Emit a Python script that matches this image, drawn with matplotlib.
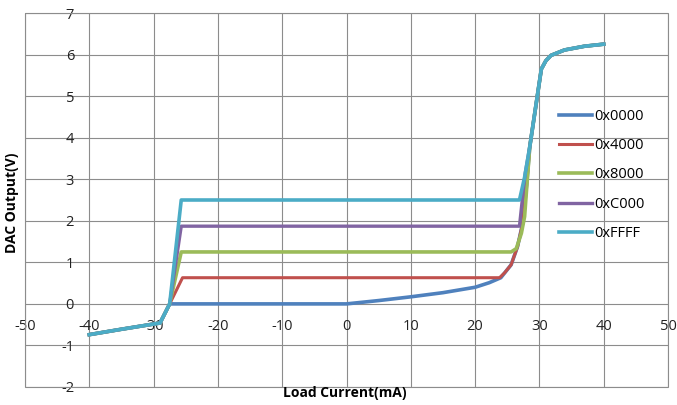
import matplotlib
matplotlib.use('Agg')
import matplotlib.pyplot as plt
from matplotlib.patches import Rectangle

plt.rcParams['font.family'] = ['Open Sans', 'DejaVu Sans']
plt.rcParams['axes.unicode_minus'] = False

# shared pieces of the curves
left_x = [-40, -35, -29.0, -27.5]
left_y = [-0.74, -0.61, -0.46, 0.0]
tail_x = [28.5, 29.5, 30.3, 31.0, 31.8, 33.9, 37.0, 40.0]
tail_y = [3.78, 4.82, 5.65, 5.85, 5.98, 6.11, 6.20, 6.25]

mid_x = {
    '0x0000': [-27.3, 0, 5, 10, 15, 20, 22.2, 24.0, 25.6, 26.6, 27.4, 28.0],
    '0x4000': [-25.5, 23.8, 24.6, 25.6, 26.6, 27.4, 28.0],
    '0x8000': [-25.7, 25.6, 26.4, 27.2, 27.7, 28.1],
    '0xC000': [-25.7, 26.9, 27.3, 27.8],
    '0xFFFF': [-25.7, 26.9, 27.7],
}
mid_y = {
    '0x0000': [0, 0, 0.08, 0.17, 0.27, 0.40, 0.51, 0.63, 0.94, 1.38, 1.94, 2.85],
    '0x4000': [0.63, 0.63, 0.75, 0.94, 1.38, 1.94, 2.85],
    '0x8000': [1.25, 1.25, 1.33, 1.70, 2.10, 2.95],
    '0xC000': [1.87, 1.87, 2.45, 3.15],
    '0xFFFF': [2.50, 2.50, 3.05],
}
series = ['0x0000', '0x4000', '0x8000', '0xC000', '0xFFFF']
colors = ['#4F81BD', '#C0504D', '#9BBB59', '#8064A2', '#4BACC6']
widths = [2.6, 2.2, 2.6, 2.4, 2.6]

xticks = list(range(-50, 51, 10))
yticks = list(range(-2, 8))

fig = plt.figure(figsize=(6.77, 4.05), dpi=100)
ax = fig.add_axes([25/677, 18/405, 643/677, 374/405])

for name, c, lw in zip(series, colors, widths):
    xs = left_x + mid_x[name] + tail_x
    ys = left_y + mid_y[name] + tail_y
    ax.plot(xs, ys, color=c, lw=lw, label=name, solid_joinstyle='round')

ax.set_xlim(-50, 50)
ax.set_ylim(-2, 7)
ax.set_xticks(xticks)
ax.set_yticks(yticks)
ax.grid(True, color='#8c8c8c', lw=0.8)
ax.set_axisbelow(True)

# axes cross at x=-40 / y=0 like the excel chart
ax.spines['left'].set_position(('data', -40))
ax.spines['bottom'].set_position(('data', 0))
for s in ax.spines.values():
    s.set_visible(False)
ax.add_patch(Rectangle((0, 0), 1, 1, transform=ax.transAxes, fill=False,
                       ec='#8c8c8c', lw=0.8, clip_on=False))
ax.tick_params(length=0, labelsize=10.5, colors='#222222', pad=11)

fig.text(12/677, 0.5, 'DAC Output(V)', rotation=90, ha='center', va='center',
         fontsize=10, fontweight='bold')
fig.text(345/677, 1 - 393/405, 'Load Current(mA)', ha='center', va='center',
         fontsize=10, fontweight='bold')

ax.legend(loc='upper left', bbox_to_anchor=(553/677, 1 - 103/405),
          bbox_transform=fig.transFigure, frameon=False, fontsize=10.5,
          handlelength=2.3, handletextpad=0.15, labelspacing=0.98,
          borderaxespad=0)

fig.savefig('out.png', dpi=100)
